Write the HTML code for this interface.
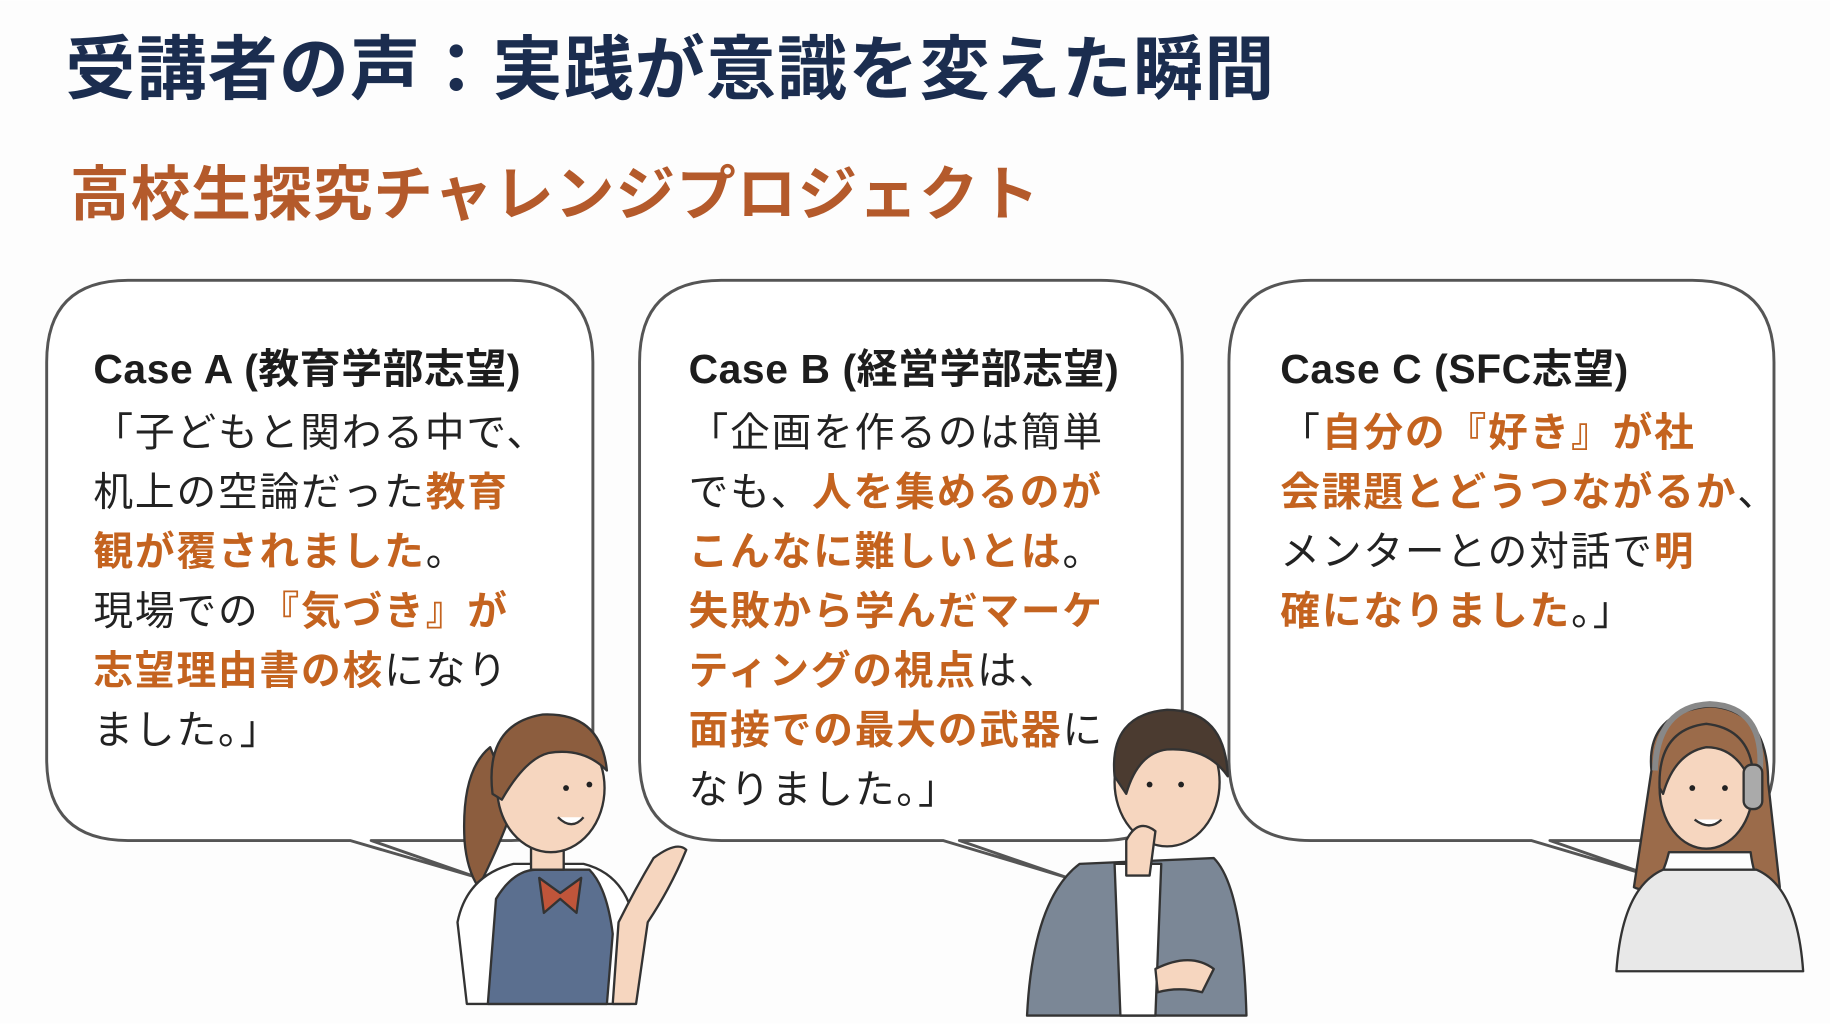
<!DOCTYPE html>
<html><head><meta charset="utf-8"><style>
html,body{margin:0;padding:0;background:#fff;width:1830px;height:1024px;overflow:hidden}
svg{display:block}
text{font-family:"Liberation Sans","Noto Sans CJK JP",sans-serif}
.t{font-size:34px;fill:#222;letter-spacing:1.6px}
.o{fill:#c4631f;font-weight:700}
.c{font-size:35px;font-weight:700;fill:#1d1d1d;letter-spacing:0.5px}
</style></head><body>
<svg width="1830" height="1024" viewBox="0 0 1568 877" xmlns="http://www.w3.org/2000/svg">
<rect width="1568" height="877" fill="#fdfdfd"/>
<text x="56" y="80" style="font-size:60px;font-weight:700;fill:#1b2d4f;letter-spacing:1px">受講者の声：実践が意識を変えた瞬間</text>
<text x="60" y="184" style="font-size:51px;font-weight:700;fill:#b45a2b;letter-spacing:1px">高校生探究チャレンジプロジェクト</text>

<g fill="#fff" stroke="#555" stroke-width="2.5" stroke-linejoin="round">
<path d="M110 240 H438 Q508 240 508 310 V650 Q508 720 438 720 H318 L410 752 L300 720 H110 Q40 720 40 650 V310 Q40 240 110 240 Z"/>
<path d="M618 240 H943 Q1013 240 1013 310 V650 Q1013 720 943 720 H822 L915 752 L808 720 H618 Q548 720 548 650 V310 Q548 240 618 240 Z"/>
<path d="M1123 240 H1450 Q1520 240 1520 310 V650 Q1520 720 1450 720 H1328 L1420 752 L1312 720 H1123 Q1053 720 1053 650 V310 Q1053 240 1123 240 Z"/>
</g>

<text x="80" y="328" class="c">Case A (教育学部志望)</text>
<text class="t" x="80" y="382">「子どもと関わる中で、</text>
<text class="t" x="80" y="433">机上の空論だった<tspan class="o">教育</tspan></text>
<text class="t" x="80" y="484"><tspan class="o">観が覆されました</tspan>。</text>
<text class="t" x="80" y="535">現場での<tspan class="o">『気づき』が</tspan></text>
<text class="t" x="80" y="586"><tspan class="o">志望理由書の核</tspan>になり</text>
<text class="t" x="80" y="637">ました。」</text>

<text x="590" y="328" class="c">Case B (経営学部志望)</text>
<text class="t" x="590" y="382">「企画を作るのは簡単</text>
<text class="t" x="590" y="433">でも、<tspan class="o">人を集めるのが</tspan></text>
<text class="t" x="590" y="484"><tspan class="o">こんなに難しいとは</tspan>。</text>
<text class="t" x="590" y="535"><tspan class="o">失敗から学んだマーケ</tspan></text>
<text class="t" x="590" y="586"><tspan class="o">ティングの視点</tspan>は、</text>
<text class="t" x="590" y="637"><tspan class="o">面接での最大の武器</tspan>に</text>
<text class="t" x="590" y="688">なりました。」</text>

<text x="1097" y="328" class="c">Case C (SFC志望)</text>
<text class="t" x="1097" y="382">「<tspan class="o">自分の『好き』が社</tspan></text>
<text class="t" x="1097" y="433"><tspan class="o">会課題とどうつながるか</tspan>、</text>
<text class="t" x="1097" y="484">メンターとの対話で<tspan class="o">明</tspan></text>
<text class="t" x="1097" y="535"><tspan class="o">確になりました</tspan>。」</text>

<!-- Girl A -->
<g stroke="#333" stroke-width="2" stroke-linejoin="round">
<path d="M420 640 Q395 660 398 720 Q400 745 410 760 Q430 720 440 690 Z" fill="#8c5d3e"/>
<path d="M400 860 L392 790 Q400 750 440 740 L500 740 Q540 750 545 800 L540 860 Z" fill="#fff"/>
<path d="M418 860 L425 770 Q440 745 460 745 L505 745 Q520 760 525 800 L520 860 Z" fill="#5b6f8f"/>
<path d="M530 790 Q545 760 560 735 Q580 720 588 728 Q575 760 555 790 L545 860 L525 860 Z" fill="#f6d6bf"/>
<rect x="455" y="715" width="28" height="30" fill="#f6d6bf"/>
<ellipse cx="472" cy="675" rx="46" ry="55" fill="#f6d6bf"/>
<path d="M422 680 Q415 620 465 612 Q515 610 520 660 Q500 640 470 645 Q450 650 430 685 Z" fill="#8c5d3e"/>
<path d="M462 752 L480 765 L498 752 L494 782 L480 770 L466 782 Z" fill="#c0553a"/>
</g>
<circle cx="485" cy="675" r="2.5" fill="#222"/><circle cx="505" cy="672" r="2.5" fill="#222"/>
<path d="M478 700 Q490 712 500 700" fill="#fff" stroke="#333" stroke-width="2"/>

<!-- Boy B -->
<g stroke="#333" stroke-width="2" stroke-linejoin="round">
<path d="M880 870 Q885 770 925 740 L1040 735 Q1065 760 1068 870 Z" fill="#7b8796"/>
<path d="M955 740 L995 740 L990 870 L960 870 Z" fill="#fff"/>
<ellipse cx="1000" cy="670" rx="45" ry="55" fill="#f6d6bf"/>
<path d="M955 665 Q950 612 1000 608 Q1050 608 1052 665 Q1035 640 1000 642 Q975 645 965 680 Z" fill="#4b3b30"/>
<path d="M965 720 Q975 700 990 712 L985 750 L965 750 Z" fill="#f6d6bf"/>
<path d="M990 830 Q1020 815 1040 830 L1030 850 Q1010 845 992 850 Z" fill="#f6d6bf"/>
</g>
<circle cx="985" cy="672" r="2.5" fill="#222"/><circle cx="1012" cy="672" r="2.5" fill="#222"/>

<!-- Girl C -->
<g stroke="#333" stroke-width="2" stroke-linejoin="round">
<path d="M1415 660 Q1410 610 1465 605 Q1515 608 1515 670 L1525 760 Q1505 770 1500 730 L1430 730 Q1420 770 1400 760 Z" fill="#9b6b4a"/>
<path d="M1385 832 Q1390 760 1425 745 L1505 745 Q1540 760 1545 832 Z" fill="#e8e8e8"/>
<ellipse cx="1462" cy="675" rx="40" ry="52" fill="#f6d6bf"/>
<path d="M1422 675 Q1420 625 1462 620 Q1505 625 1502 675 Q1490 640 1462 640 Q1435 645 1425 680 Z" fill="#9b6b4a"/>
<path d="M1418 660 Q1420 605 1465 603 Q1512 605 1508 660" fill="none" stroke="#888" stroke-width="5"/>
<rect x="1494" y="655" width="16" height="38" rx="7" fill="#aaa"/>
</g>
<circle cx="1450" cy="675" r="2.5" fill="#222"/><circle cx="1478" cy="675" r="2.5" fill="#222"/>
<path d="M1452 702 Q1465 712 1475 702" fill="#fff" stroke="#333" stroke-width="2"/>
</svg>
</body></html>
